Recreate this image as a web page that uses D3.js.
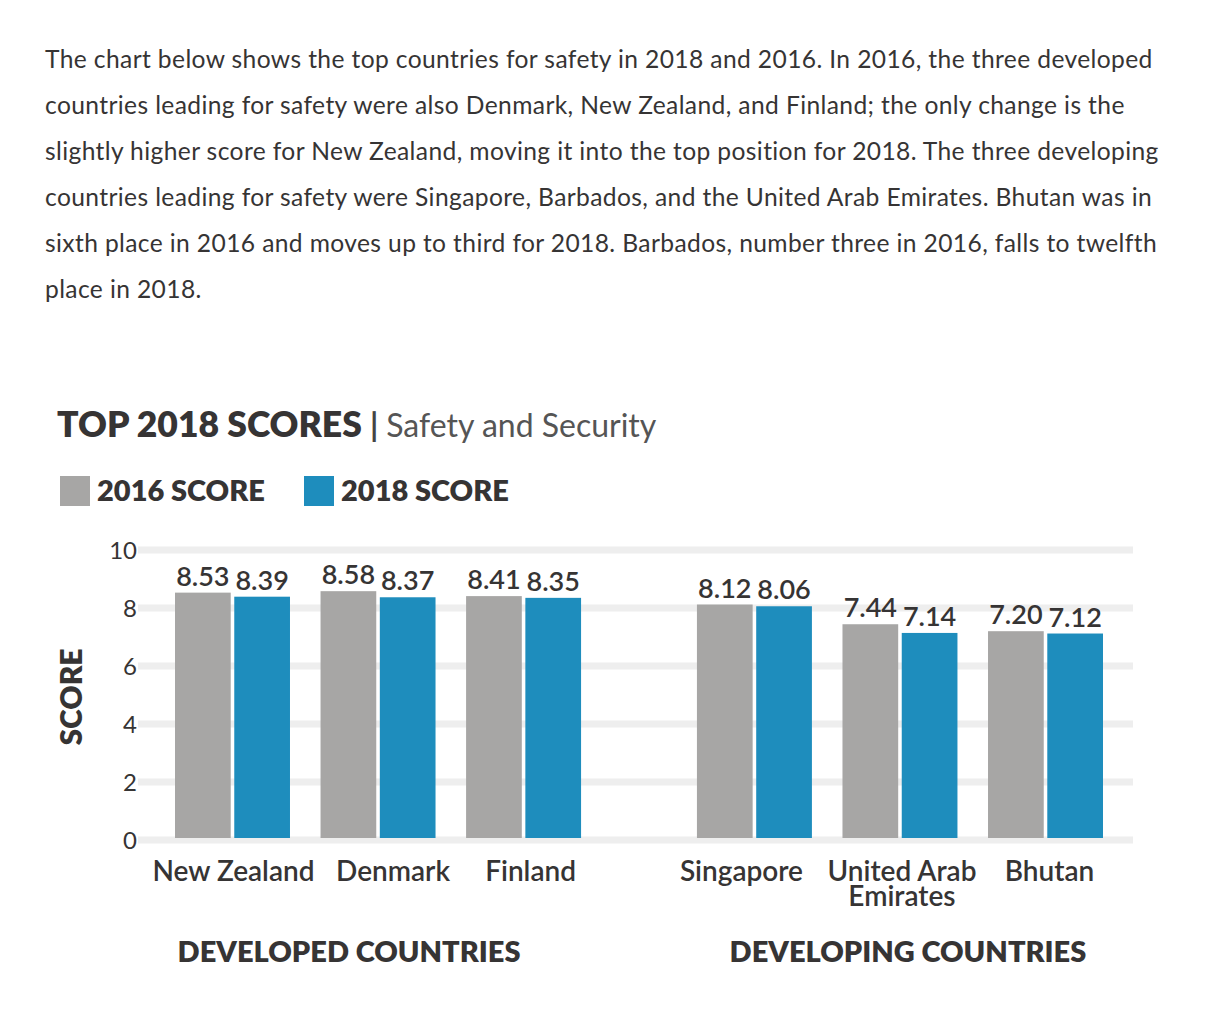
<!DOCTYPE html>
<html>
<head>
<meta charset="utf-8">
<script src="https://cdn.jsdelivr.net/npm/d3@7"></script>
<style>
  body { margin: 0; background: #fff; }
  text { font-family: Lato, "Open Sans", sans-serif; fill: #363434; }
</style>
</head>
<body>
<div id="chart-area"></div>
<script>
// data
var paragraph = [
    "The chart below shows the top countries for safety in 2018 and 2016. In 2016, the three developed",
    "countries leading for safety were also Denmark, New Zealand, and Finland; the only change is the",
    "slightly higher score for New Zealand, moving it into the top position for 2018. The three developing",
    "countries leading for safety were Singapore, Barbados, and the United Arab Emirates. Bhutan was in",
    "sixth place in 2016 and moves up to third for 2018. Barbados, number three in 2016, falls to twelfth",
    "place in 2018."
]
var groups = ["DEVELOPED COUNTRIES", "DEVELOPING COUNTRIES"]
var countries = ["New Zealand", "Denmark", "Finland", "Singapore", "United Arab Emirates", "Bhutan"]
var countryLabels = [["New Zealand"], ["Denmark"], ["Finland"], ["Singapore"], ["United Arab", "Emirates"], ["Bhutan"]]
var countryGroup = [0, 0, 0, 1, 1, 1]
var series = ["2016 SCORE", "2018 SCORE"]
var score2016 = [8.53, 8.58, 8.41, 8.12, 7.44, 7.20]
var score2018 = [8.39, 8.37, 8.35, 8.06, 7.14, 7.12]
var yTicks = [0, 2, 4, 6, 8, 10]

var cw = 1214
var ch = 1026

// small horizontal nudges for the country labels, as in the original layout
var labelNudge = [1, 15, 7, -13, 2, 4]

var svg = d3.select("#chart-area").append("svg")
    .attr("width", cw)
    .attr("height", ch)

// intro paragraph
svg.append("g").selectAll("text")
    .data(paragraph).enter().append("text")
        .attr("x", 45)
        .attr("y", (d, i) => 68 + i * 46)
        .attr("font-size", "24.6px")
        .attr("letter-spacing", "0.38px")
        .text(d => d)

// title
var title = svg.append("text")
    .attr("x", 57)
    .attr("y", 437)
title.append("tspan")
    .attr("font-size", "35.5px")
    .attr("font-weight", 800)
    .text("TOP 2018 SCORES")
title.append("tspan")
    .attr("font-size", "32px")
    .attr("dx", 8)
    .attr("font-weight", 700)
    .style("fill", "#444")
    .text("|")
title.append("tspan")
    .attr("font-size", "32px")
    .attr("dx", 8)
    .style("fill", "#555")
    .text("Safety and Security")

var color = d3.scaleOrdinal()
    .domain(series)
    .range(["#a7a6a5", "#1e8dbd"])

// legend
var legend = svg.append("g")
var lx = [60, 304]
series.forEach((s, i) => {
    legend.append("rect")
        .attr("x", lx[i])
        .attr("y", 476)
        .attr("width", 30)
        .attr("height", 30)
        .attr("fill", color(s))
    legend.append("text")
        .attr("x", lx[i] + 37)
        .attr("y", 501)
        .attr("font-size", "29px")
        .attr("font-weight", 800)
        .text(s)
})

// scales
var y = d3.scaleLinear()
    .domain([0, 10])
    .range([840, 550])

var xg = d3.scaleBand()
    .domain(groups)
    .range([175, 1103])
    .paddingInner(0.222)

var xc = d3.scaleBand()
    .domain([0, 1, 2])
    .range([0, xg.bandwidth()])
    .paddingInner(0.21)

var xs = d3.scaleBand()
    .domain(series)
    .range([0, xc.bandwidth()])
    .paddingInner(0.06)

function cx(i) {
    return xg(groups[countryGroup[i]]) + xc(i % 3)
}

// grid
var grid = svg.append("g")
grid.selectAll("line")
    .data(yTicks).enter().append("line")
        .attr("x1", 138)
        .attr("x2", 1133)
        .attr("y1", d => y(d))
        .attr("y2", d => y(d))
        .attr("stroke", "#eeeeee")
        .attr("stroke-width", 7)

var leftAxis = d3.axisLeft(y)
    .tickValues(yTicks)
    .tickSize(0)
    .tickPadding(0)

var ax = svg.append("g")
    .attr("transform", "translate(137, 0)")
    .call(leftAxis)
ax.select(".domain").remove()
ax.selectAll("text")
    .attr("font-size", "24px")
    .attr("font-family", "Lato, sans-serif")
    .attr("dy", "0.36em")
    .style("fill", "#363434")

svg.append("text")
    .attr("transform", "translate(82, 697) rotate(-90)")
    .attr("text-anchor", "middle")
    .attr("font-size", "30px")
    .attr("font-weight", 800)
    .text("SCORE")

// bars
var rows = countries.map((c, i) => ({i: i, values: [score2016[i], score2018[i]]}))

var cg = svg.append("g").selectAll("g")
    .data(rows).enter().append("g")
        .attr("transform", d => "translate(" + cx(d.i) + ",0)")

cg.selectAll("rect")
    .data(d => d.values.map((v, k) => ({s: series[k], v: v}))).enter().append("rect")
        .attr("x", d => xs(d.s))
        .attr("y", d => y(d.v))
        .attr("width", xs.bandwidth())
        .attr("height", d => y(0) - 2 - y(d.v))
        .attr("fill", d => color(d.s))

cg.selectAll("text.val")
    .data(d => d.values.map((v, k) => ({s: series[k], v: v}))).enter().append("text")
        .attr("class", "val")
        .attr("x", d => xs(d.s) + xs.bandwidth() / 2)
        .attr("y", d => y(d.v) - 7)
        .attr("text-anchor", "middle")
        .attr("font-size", "27px")
        .attr("font-weight", 600)
        .text(d => d3.format(".2f")(d.v))

// country labels
cg.append("text")
    .attr("y", 881)
    .attr("text-anchor", "middle")
    .attr("font-size", "28px")
    .attr("font-weight", 600)
    .selectAll("tspan")
    .data(d => countryLabels[d.i].map(t => ({t: t, i: d.i}))).enter().append("tspan")
        .attr("x", d => xc.bandwidth() / 2 + labelNudge[d.i])
        .attr("dy", (d, k) => k == 0 ? 0 : 25)
        .text(d => d.t)

// group labels
svg.append("g").selectAll("text")
    .data(groups).enter().append("text")
        .attr("x", (d, i) => xg(d) + xg.bandwidth() / 2 + (i == 0 ? -29 : 8))
        .attr("y", 962)
        .attr("text-anchor", "middle")
        .attr("font-size", "29px")
        .attr("font-weight", 800)
        .text(d => d)
</script>
</body>
</html>
